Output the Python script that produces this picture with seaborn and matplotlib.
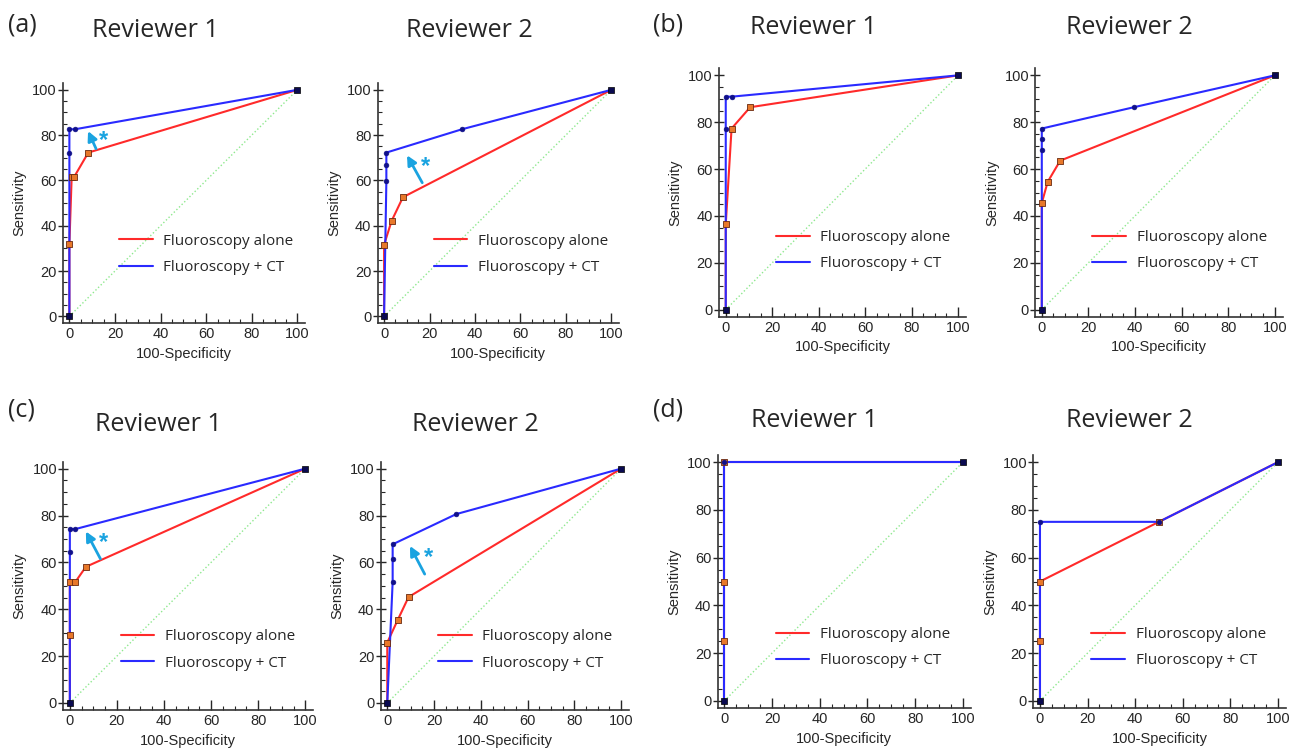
import pandas as pd
import numpy as np
import matplotlib.pyplot as plt
import seaborn as sns
from matplotlib.ticker import MultipleLocator

# ROC points (100-Specificity, Sensitivity)
a1_alone_x = [0, 0, 1, 2, 8.3, 100]
a1_alone_y = [0, 31.8, 61.4, 61.4, 72.3, 100]
a1_ct_x = [0, 0, 0, 2.5, 100]
a1_ct_y = [0, 72.3, 82.6, 82.6, 100]

a2_alone_x = [0, 0, 3.3, 8.3, 100]
a2_alone_y = [0, 31.6, 42.1, 52.6, 100]
a2_ct_x = [0, 1, 1, 1, 34.3, 100]
a2_ct_y = [0, 59.6, 66.7, 72.3, 82.6, 100]

b1_alone_x = [0, 0, 2.5, 10.5, 100]
b1_alone_y = [0, 36.4, 77.3, 86.4, 100]
b1_ct_x = [0, 0, 0, 2.5, 100]
b1_ct_y = [0, 77.3, 90.9, 90.9, 100]

b2_alone_x = [0, 0, 2.5, 7.9, 100]
b2_alone_y = [0, 45.5, 54.5, 63.6, 100]
b2_ct_x = [0, 0, 0, 0, 39.5, 100]
b2_ct_y = [0, 68.2, 72.7, 77.3, 86.4, 100]

c1_alone_x = [0, 0, 0, 2.3, 6.8, 100]
c1_alone_y = [0, 29.0, 51.6, 51.6, 58.1, 100]
c1_ct_x = [0, 0, 0, 2.3, 100]
c1_ct_y = [0, 64.5, 74.2, 74.2, 100]

c2_alone_x = [0, 0, 4.5, 9.1, 100]
c2_alone_y = [0, 25.8, 35.5, 45.2, 100]
c2_ct_x = [0, 2.3, 2.3, 2.3, 29.5, 100]
c2_ct_y = [0, 51.6, 61.3, 67.7, 80.6, 100]

d1_alone_x = [0, 0, 0, 0, 100]
d1_alone_y = [0, 25, 50, 100, 100]
d1_ct_x = [0, 0, 100]
d1_ct_y = [0, 100, 100]

d2_alone_x = [0, 0, 0, 50, 100]
d2_alone_y = [0, 25, 50, 75, 100]
d2_ct_x = [0, 0, 50, 100]
d2_ct_y = [0, 75, 75, 100]

# significance arrows: (tail x, tail y, head x, head y, star x, star y)
a1_arrow = [11.7, 74, 8.2, 81.8, 14.8, 77.7]
a2_arrow = [16.8, 59, 10.1, 71.1, 18.1, 66]
c1_arrow = [13, 61.5, 6.8, 73.2, 14.4, 68.6]
c2_arrow = [16, 55, 9.7, 67, 17.6, 62]

panel_labels = ['(a)', '(b)', '(c)', '(d)']
reviewers = ['Reviewer 1', 'Reviewer 2']
series_names = ['Fluoroscopy alone', 'Fluoroscopy + CT']

panels = [
    (a1_alone_x, a1_alone_y, a1_ct_x, a1_ct_y, a1_arrow),
    (a2_alone_x, a2_alone_y, a2_ct_x, a2_ct_y, a2_arrow),
    (b1_alone_x, b1_alone_y, b1_ct_x, b1_ct_y, None),
    (b2_alone_x, b2_alone_y, b2_ct_x, b2_ct_y, None),
    (c1_alone_x, c1_alone_y, c1_ct_x, c1_ct_y, c1_arrow),
    (c2_alone_x, c2_alone_y, c2_ct_x, c2_ct_y, c2_arrow),
    (d1_alone_x, d1_alone_y, d1_ct_x, d1_ct_y, None),
    (d2_alone_x, d2_alone_y, d2_ct_x, d2_ct_y, None),
]

# axes boxes in figure fractions [left, bottom, width, height]
boxes = [
    [0.0482, 0.572, 0.1852, 0.318],
    [0.2890, 0.572, 0.1846, 0.318],
    [0.5503, 0.5805, 0.1888, 0.329],
    [0.7921, 0.5805, 0.1893, 0.329],
    [0.0484, 0.0596, 0.1913, 0.329],
    [0.2913, 0.0596, 0.1900, 0.329],
    [0.5491, 0.0623, 0.1938, 0.335],
    [0.7906, 0.0623, 0.1933, 0.335],
]
legend_top = [0.43, 0.43, 0.405, 0.405, 0.38, 0.38, 0.375, 0.375]
title_y = [1.22, 1.22, 1.165, 1.165, 1.149, 1.149, 1.138, 1.138]

sns.set_style('ticks')
plt.rcParams['font.family'] = ['Liberation Sans', 'DejaVu Sans']

RED = '#ff2a2a'
BLUE = '#2a2aff'
STAR = '#1aa3e0'
title_font = ['Open Sans', 'DejaVu Sans']

fig = plt.figure(figsize=(13.07, 7.55), dpi=100)

for i, (ax_x, ax_y, ct_x, ct_y, arrow) in enumerate(panels):
    ax = fig.add_axes(boxes[i])
    alone = pd.DataFrame({'x': ax_x, 'y': ax_y})
    ct = pd.DataFrame({'x': ct_x, 'y': ct_y})

    ax.plot([0, 100], [0, 100], linestyle=':', color='#8ee88e', lw=1.0, zorder=1)
    sns.lineplot(data=alone, x='x', y='y', ax=ax, color=RED, lw=1.5, sort=False,
                 estimator=None, label=series_names[0], zorder=2)
    sns.lineplot(data=ct, x='x', y='y', ax=ax, color=BLUE, lw=1.5, sort=False,
                 estimator=None, label=series_names[1], zorder=3)
    sns.scatterplot(data=alone.iloc[1:-1], x='x', y='y', ax=ax, marker='s', s=16,
                    color='#e8782a', edgecolor='#6a2a10', linewidth=0.6, zorder=4, legend=False)
    sns.scatterplot(data=ct.iloc[1:-1], x='x', y='y', ax=ax, marker='o', s=12,
                    color='#10108a', edgecolor='#10108a', linewidth=0.4, zorder=5, legend=False)
    ends = ct.iloc[[0, -1]]
    sns.scatterplot(data=ends, x='x', y='y', ax=ax, marker='s', s=22,
                    color='#0a0a50', edgecolor='#000000', linewidth=0.5, zorder=6, legend=False)

    if arrow is not None:
        ax.annotate('', xy=(arrow[2], arrow[3]), xytext=(arrow[0], arrow[1]),
                    arrowprops=dict(arrowstyle='-|>', color=STAR, lw=2.0,
                                    mutation_scale=14, shrinkA=0, shrinkB=0), zorder=7)
        ax.text(arrow[4], arrow[5], '*', color=STAR, fontsize=17, fontweight='bold',
                ha='center', va='center', zorder=7)

    ax.set_xlim(-2.8, 103.4)
    ax.set_ylim(-3, 103)
    ax.xaxis.set_major_locator(MultipleLocator(20))
    ax.xaxis.set_minor_locator(MultipleLocator(5))
    ax.yaxis.set_major_locator(MultipleLocator(20))
    ax.yaxis.set_minor_locator(MultipleLocator(5))
    ax.tick_params(axis='y', which='major', direction='inout', length=7, width=1, labelsize=10.5, pad=1)
    ax.tick_params(axis='y', which='minor', direction='in', length=3, width=0.8)
    ax.tick_params(axis='x', which='major', direction='in', length=7, width=1, labelsize=10.5, pad=3)
    ax.tick_params(axis='x', which='minor', direction='in', length=3, width=0.8)
    for sp in ['top', 'right']:
        ax.spines[sp].set_visible(False)
    for sp in ['left', 'bottom']:
        ax.spines[sp].set_linewidth(1.2)
        ax.spines[sp].set_color('#333333')

    ax.set_xlabel('100-Specificity', fontsize=10.5, labelpad=4)
    ax.set_ylabel('Sensitivity', fontsize=10.5, labelpad=4)

    ax.legend(loc='upper left', bbox_to_anchor=(0.175, legend_top[i]), frameon=False,
              handlelength=2.2, handletextpad=0.7, labelspacing=0.75,
              prop={'family': title_font, 'size': 11})

    ax.set_title(reviewers[i % 2], fontsize=18, family=title_font, pad=0,
                 x=0.38, y=title_y[i], va='center')

# panel letters
fig.text(0.006, 0.967, panel_labels[0], fontsize=18, family=title_font, va='center')
fig.text(0.500, 0.967, panel_labels[1], fontsize=18, family=title_font, va='center')
fig.text(0.006, 0.457, panel_labels[2], fontsize=18, family=title_font, va='center')
fig.text(0.500, 0.457, panel_labels[3], fontsize=18, family=title_font, va='center')

fig.savefig('out.png', dpi=100)
